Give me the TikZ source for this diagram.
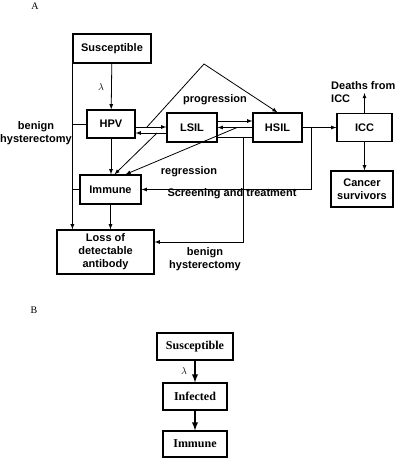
\documentclass[tikz,border=0pt]{standalone}
\usepackage{fontspec}
\setmainfont{Liberation Serif}
\newfontfamily\arialfont{Liberation Sans}

\tikzset{
  box/.style={draw, line width=1.2pt, inner sep=0pt, align=center,
    font=\arialfont\bfseries\fontsize{11}{13}\selectfont},
  boxB/.style={draw, line width=1.1pt, inner sep=0pt,
    font=\bfseries\fontsize{12}{14}\selectfont},
  lbl/.style={inner sep=0pt, align=center,
    font=\arialfont\bfseries\fontsize{11}{13}\selectfont},
  arr/.style={->, >=latex, line width=0.8pt},
  arrB/.style={->, >=latex, line width=1.8pt},
}

\begin{document}
\begin{tikzpicture}[x=1pt, y=-1pt]
    \useasboundingbox (0,0) rectangle (402,458);

    % panel A
    \node[font=\fontsize{10}{11}\selectfont] (labA) at (35,6) {A};
    \node[box, minimum width=78pt, minimum height=29pt] (susA) at (112,48.5) {Susceptible};
    \node[box, minimum width=48pt, minimum height=28pt] (hpv) at (111,124) {HPV};
    \node[box, minimum width=50pt, minimum height=29pt] (lsil) at (192,127.5) {LSIL};
    \node[box, minimum width=49pt, minimum height=29pt] (hsil) at (277.5,127.5) {HSIL};
    \node[box, minimum width=55pt, minimum height=28pt] (icc) at (364.5,127.5) {ICC};
    \node[box, minimum width=62pt, minimum height=36pt] (cancer) at (362,189) {Cancer\\survivors};
    \node[box, minimum width=61pt, minimum height=29pt] (immA) at (110.5,189.5) {Immune};
    \node[box, minimum width=97pt, minimum height=44pt] (loss) at (105.5,252) {Loss of\\detectable\\antibody};

    \node[font=\fontsize{10}{11}\selectfont] (lamA) at (101,87) {$\lambda$};
    \node[lbl] (benA) at (36,133) {benign\\hysterectomy};
    \node[lbl] (prog) at (215,100) {progression};
    \node[lbl] (regr) at (189,172) {regression};
    \node[lbl] (scrn) at (232,194) {Screening and treatment};
    \node[lbl] (benB) at (205,259) {benign\\hysterectomy};
    \node[lbl, anchor=west, align=left] (death) at (331,92) {Deaths from\\ICC};

    \coordinate (pstart) at (147,127);
    \coordinate (peak) at (204,64);
    \coordinate (rstart) at (237,127.5);
    \coordinate (lstart) at (157,133);
    \coordinate (bh) at (243,137);
    \coordinate (sc) at (311,127.5);
    \coordinate (dth) at (364.5,93);

    \draw[arr] (susA) -- (hpv);
    \draw[arr] (susA.south west) -- (susA.south west |- loss.north);
    \draw (hpv.west) -- (hpv.west -| susA.south west);
    \draw (immA.west) -- (immA.west -| susA.south west);
    \draw[arr] ([yshift=-3pt]hpv.east) -- ([yshift=-3pt]hpv.east -| lsil.west);
    \draw[arr] ([yshift=-9pt]hpv.east -| lsil.west) -- ([yshift=-9pt]hpv.east);
    \draw[arr] (pstart) -- (peak) -- (hsil.north);
    \draw[arr] ([yshift=6.5pt]lsil.east) -- ([yshift=6.5pt]lsil.east -| hsil.west);
    \draw[arr] (hsil) -- (lsil);
    \draw ([yshift=-9.5pt]lsil.east) -- ([yshift=-9.5pt]lsil.east -| hsil.west);
    \draw[arr] (hpv.south) -- (hpv.south |- immA.north);
    \draw[arr] (lstart) -- ([xshift=4pt]immA.north);
    \draw[arr] (rstart) -- ([xshift=15pt]immA.north);
    \draw[arr] (bh) |- ([yshift=10pt]loss.east);
    \draw[arr] (hsil) -- (icc);
    \draw[arr] (sc) |- (immA.east);
    \draw[arr] (icc.north) -- (dth);
    \draw[arr] (icc.south) -- (icc.south |- cancer.north);
    \draw[arr] (immA.south) -- (immA.south |- loss.north);

    % panel B
    \node[font=\fontsize{10}{11}\selectfont] (labB) at (34,310) {B};
    \node[boxB, minimum width=76pt, minimum height=27pt] (susB) at (195,346.5) {Susceptible};
    \node[boxB, minimum width=64pt, minimum height=27pt] (inf) at (195,396.5) {Infected};
    \node[boxB, minimum width=64pt, minimum height=26pt] (immB) at (195,444) {Immune};
    \node[font=\fontsize{10}{11}\selectfont] (lamB) at (184,371) {$\lambda$};

    \draw[arrB] (susB) -- (inf);
    \draw[arrB] (inf) -- (immB);
\end{tikzpicture}
\end{document}
